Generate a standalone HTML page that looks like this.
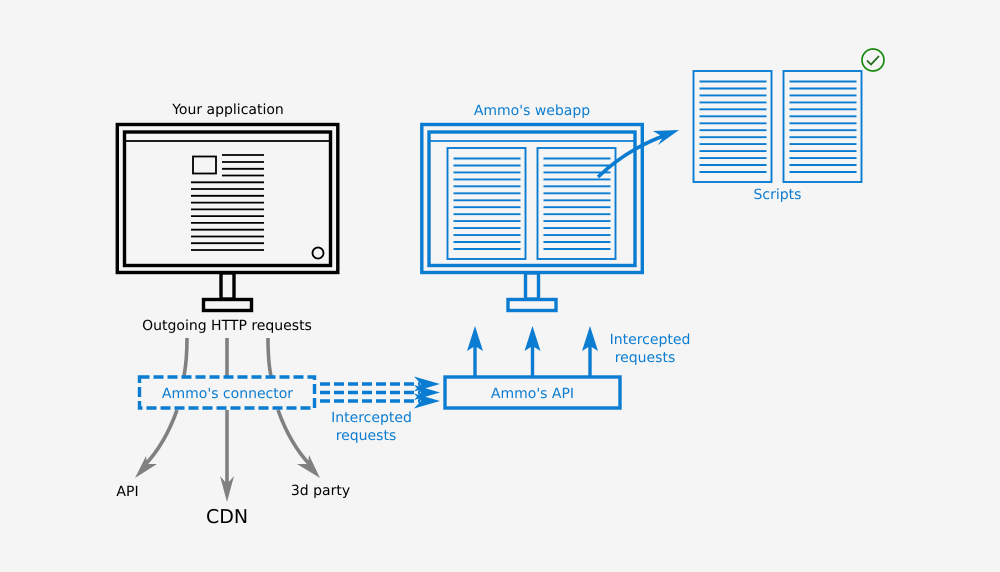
<!DOCTYPE html>
<html><head><meta charset="utf-8"><style>
html,body{margin:0;padding:0;background:#f5f5f5}
svg{display:block}
text{font-family:"DejaVu Sans",sans-serif;font-size:14px;text-anchor:middle;text-rendering:geometricPrecision}
text.b{fill:#0a7cd2}
</style></head><body>
<svg width="1000" height="572" viewBox="0 0 1000 572" xmlns="http://www.w3.org/2000/svg">
<rect width="1000" height="572" fill="#f5f5f5"/>
<defs>
<g id="mon" fill="none" stroke="currentColor">
<rect x="117.300" y="124.500" width="220.500" height="148" stroke-width="3.400"/>
<rect x="124.500" y="132" width="206" height="133.500" stroke-width="3.400"/>
<path d="M125 141H330" stroke-width="1.800"/>
<rect x="221" y="273" width="13" height="26" stroke-width="3.400"/>
<rect x="203.500" y="299.500" width="48" height="11" stroke-width="3.400"/>
</g>
<g id="doc" fill="none" stroke="#0a7cd2">
<rect x="0" y="0" width="78" height="111" stroke-width="1.900"/>
<path stroke-width="1.900" d="M6 10.500h67M6 17.500h67M6 24.400h67M6 31.400h67M6 38.300h67M6 45.300h67M6 52.300h67M6 59.200h67M6 66.200h67M6 73.100h67M6 80.100h67M6 87.100h67M6 94h67M6 101h67"/>
</g>
</defs>
<!-- left monitor -->
<use href="#mon" color="#000"/>
<rect x="193" y="156.500" width="23" height="17" fill="none" stroke="#000" stroke-width="1.800"/>
<path stroke="#000" stroke-width="1.800" fill="none" d="M222 155h42M222 162h42M222 168.800h42M222 175.500h42M191 182.300h73M191 189h73M191 195.800h73M191 202.600h73M191 209.400h73M191 216.100h73M191 222.900h73M191 229.700h73M191 236.500h73M191 243.200h73M191 250h73"/>
<circle cx="318" cy="253" r="5.500" fill="none" stroke="#000" stroke-width="1.800"/>
<text x="228" y="114">Your application</text>
<text x="227" y="330">Outgoing HTTP requests</text>
<!-- blue monitor -->
<use href="#mon" x="304.500" color="#0a7cd2"/>
<use href="#doc" x="447.500" y="148"/>
<use href="#doc" x="537.500" y="148"/>
<path d="M598 177Q627 149 666 135" fill="none" stroke="#0a7cd2" stroke-width="3.600"/>
<path d="M679 130L653 131L663 137L658 145Z" fill="#0a7cd2"/>
<text class="b" x="532" y="115">Ammo's webapp</text>
<!-- scripts -->
<use href="#doc" x="693.500" y="71"/>
<use href="#doc" x="783.500" y="71"/>
<text class="b" x="777.500" y="199">Scripts</text>
<circle cx="873" cy="60" r="11" fill="none" stroke="#1a8a10" stroke-width="1.700"/>
<path d="M867 60.500L871 64.500L879 56" fill="none" stroke="#1f6b17" stroke-width="1.700"/>
<!-- grey connectors -->
<g fill="none" stroke="#808080" stroke-width="3.600">
<path d="M187 338Q187 360 184 376"/>
<path d="M227 338V376"/>
<path d="M268 338Q268 362 271 376"/>
<path d="M177 410Q165 444 144 466"/>
<path d="M227 410V490"/>
<path d="M278 410Q290 444 311 466"/>
</g>
<g fill="#808080">
<path d="M135 478L146 456L147 464L157 464Z"/>
<path d="M227 502L220 476L227 484L234 476Z"/>
<path d="M320 478L297 464L308 464L309 455Z"/>
</g>
<!-- connector box -->
<rect x="139.500" y="377" width="175" height="31" fill="none" stroke="#0a7cd2" stroke-width="3.400" stroke-dasharray="10 4"/>
<text class="b" x="227.500" y="398">Ammo's connector</text>
<text x="127.500" y="496">API</text>
<text x="320.500" y="495">3d party</text>
<text x="227" y="523" style="font-size:19px">CDN</text>
<!-- dashed arrows -->
<g stroke="#0a7cd2" stroke-width="3.400" stroke-dasharray="10 4" fill="none">
<path d="M320 384H420"/><path d="M320 392.500H420"/><path d="M320 401H420"/>
</g>
<g fill="#0a7cd2">
<path d="M440 384L414 376.500L421 384L414 391.500Z"/>
<path d="M440 392.500L414 385L421 392.500L414 400Z"/>
<path d="M440 401L414 393.500L421 401L414 408.500Z"/>
</g>
<text class="b" x="371.500" y="422">Intercepted</text>
<text class="b" x="366" y="440">requests</text>
<!-- API box -->
<rect x="445" y="377" width="175" height="31" fill="none" stroke="#0a7cd2" stroke-width="3.400"/>
<text class="b" x="532.500" y="398">Ammo's API</text>
<g stroke="#0a7cd2" stroke-width="3.400"><path d="M475 376V345"/><path d="M532.500 376V345"/><path d="M590 376V345"/></g>
<g fill="#0a7cd2">
<path d="M475 326L467 351L475 346L483 351Z"/>
<path d="M532.500 326L524.500 351L532.500 346L540.500 351Z"/>
<path d="M590 326L582 351L590 346L598 351Z"/>
</g>
<text class="b" x="650" y="344">Intercepted</text>
<text class="b" x="645" y="362">requests</text>
</svg>
</body></html>
